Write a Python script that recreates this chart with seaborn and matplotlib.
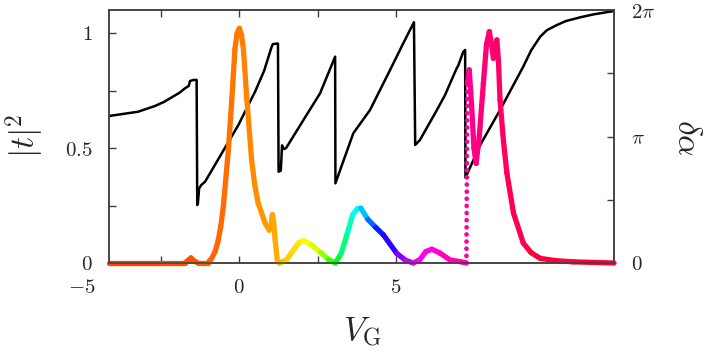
import colorsys
import numpy as np
import pandas as pd
import matplotlib
matplotlib.use("Agg")
import matplotlib.pyplot as plt
from matplotlib.collections import LineCollection
import seaborn as sns

# |t|^2 vs gate voltage, colour hue (degrees)
vg_t = [-4.14, -2.5, -1.72, -1.62, -1.53, -1.44, -1.31, -1.0, -0.87, -0.76,
        -0.66, -0.58, -0.50, -0.34, -0.23, -0.13, -0.06, 0.01, 0.08, 0.14,
        0.25, 0.40, 0.50, 0.61, 0.83, 0.96, 1.02, 1.06, 1.10, 1.15,
        1.22, 1.28, 1.36, 1.5, 1.7, 1.9, 2.05, 2.3, 2.6, 2.85,
        3.06, 3.25, 3.45, 3.62, 3.76, 3.88, 4.1, 4.35, 4.6, 5.02,
        5.3, 5.55, 5.76, 5.95, 6.14, 6.4, 6.72, 7.04, 7.24, 7.27,
        7.33, 7.40, 7.48, 7.55, 7.65, 7.78, 7.88, 7.97, 8.04, 8.1,
        8.16, 8.21, 8.26, 8.31, 8.42, 8.53, 8.74, 9.05, 9.3, 9.59,
        10.1, 10.64, 11.94]
t2 = [0.0, 0.0, 0.0, 0.012, 0.022, 0.01, 0.0, 0.0, 0.02, 0.05,
      0.10, 0.16, 0.245, 0.49, 0.71, 0.93, 1.0, 1.02, 0.99, 0.93,
      0.71, 0.45, 0.34, 0.26, 0.174, 0.143, 0.16, 0.21, 0.18, 0.10,
      0.01, 0.0, 0.005, 0.012, 0.05, 0.088, 0.097, 0.08, 0.045, 0.015,
      0.0, 0.04, 0.13, 0.21, 0.235, 0.238, 0.19, 0.155, 0.122, 0.042,
      0.012, 0.0, 0.015, 0.05, 0.06, 0.043, 0.013, 0.006, 0.0, 0.78,
      0.84, 0.70, 0.50, 0.433, 0.55, 0.78, 0.95, 1.006, 0.95, 0.89,
      0.94, 0.97, 0.88, 0.71, 0.53, 0.39, 0.217, 0.087, 0.045, 0.02,
      0.01, 0.005, 0.0]
hue_t = [15, 17, 18, 19, 19, 20, 21, 22, 23, 24,
         24, 25, 25, 26, 27, 28, 28, 29, 29, 30,
         31, 32, 33, 34, 36, 37, 38, 38, 39, 40,
         41, 42, 43, 46, 50, 54, 57, 62, 75, 95,
         120, 140, 158, 172, 180, 185, 205, 225, 240, 262,
         278, 292, 300, 305, 308, 312, 316, 320, 322, 324,
         326, 327, 328, 329, 330, 331, 332, 332, 333, 334,
         334, 335, 336, 336, 338, 339, 341, 343, 344, 345,
         346, 347, 348]

# phase delta alpha (in units of pi) vs gate voltage
vg_phase = [-4.14, -3.7, -3.21, -2.68, -2.4, -2.14, -1.9, -1.72, -1.60, -1.56,
            -1.45, -1.35, -1.33, -1.31, -1.27, -1.20, -1.08, -0.55, -0.02, 0.51,
            0.80, 1.04, 1.08, 1.24, 1.26, 1.33, 1.37, 1.42, 1.50, 2.05,
            2.58, 3.06, 3.07, 3.22, 3.64, 4.17, 4.81, 5.23, 5.57, 5.61,
            5.76, 6.30, 6.56, 6.93, 6.98, 7.14, 7.20, 7.21, 7.68, 8.31,
            9.05, 9.3, 9.59, 9.8, 10.12, 10.4, 10.86, 11.3, 11.94]
phase_pi = [1.162, 1.178, 1.196, 1.241, 1.272, 1.31, 1.345, 1.381, 1.40, 1.439,
            1.447, 1.447, 0.458, 0.47, 0.59, 0.617, 0.643, 0.867, 1.091, 1.354,
            1.52, 1.71, 1.731, 1.735, 0.722, 0.73, 0.93, 0.90, 0.909, 1.13,
            1.341, 1.631, 0.630, 0.735, 1.026, 1.209, 1.526, 1.737, 1.903, 0.933,
            0.972, 1.209, 1.328, 1.539, 1.56, 1.67, 1.684, 0.674, 0.933, 1.209,
            1.552, 1.68, 1.789, 1.84, 1.881, 1.912, 1.942, 1.966, 1.992]

sns.set_theme(style="ticks")
plt.rcParams["font.family"] = ["DejaVu Serif"]
plt.rcParams["mathtext.fontset"] = "cm"

fig = plt.figure(figsize=(7.05, 3.52), dpi=100)
ax = fig.add_axes([109 / 705, 89 / 352, 505 / 705, 253 / 352])
ax2 = ax.twinx()
ax.set_zorder(ax2.get_zorder() + 1)
ax.patch.set_visible(False)

# black phase curve on the right axis
df_phase = pd.DataFrame({"vg": vg_phase, "phase": np.array(phase_pi) * np.pi})
sns.lineplot(data=df_phase, x="vg", y="phase", ax=ax2, color="black",
             lw=1.8, sort=False, estimator=None)

# rainbow |t|^2 curve on the left axis
pts = np.column_stack([vg_t, t2])
segs = np.stack([pts[:-1], pts[1:]], axis=1)
hues = np.array(hue_t, dtype=float)
cols = np.array([colorsys.hsv_to_rgb(h / 360.0, 1, 1)
                 for h in (hues[:-1] + hues[1:]) / 2])
slope = np.abs(np.diff(t2) / np.diff(vg_t))
steep = slope > 8
lc = LineCollection(segs[~steep], colors=cols[~steep], linewidths=3.8,
                    capstyle="round", joinstyle="round", clip_on=False)
ax.add_collection(lc)
lc_dot = LineCollection(segs[steep], colors=cols[steep], linewidths=3.4,
                        linestyles=[(0, (0.01, 1.5))], capstyle="round")
ax.add_collection(lc_dot)

ax.set_xlim(-4.14, 11.94)
ax.set_ylim(0, 1.1)
ax2.set_ylim(0, 2 * np.pi)

ax.set_xticks([-2.5, 0, 2.5, 5])
ax.set_xticklabels(["", "$0$", "", "$5$"])
ax.set_yticks([0, 0.25, 0.5, 0.75, 1])
ax.set_yticklabels(["$0$", "", "$0.5$", "", "$1$"])
ax2.set_yticks([0, np.pi / 2, np.pi, 3 * np.pi / 2, 2 * np.pi])
ax2.set_yticklabels(["$0$", "", r"$\pi$", "", r"$2\pi$"])

ax.tick_params(axis="x", direction="in", length=5, width=1, top=True,
               bottom=True, pad=11, labelsize=15, color="#404040")
ax.tick_params(axis="y", direction="in", length=5, width=1, left=True,
               right=False, pad=12, labelsize=15, color="#404040")
ax2.tick_params(axis="y", direction="in", length=5, width=1, right=True,
                left=False, pad=12, labelsize=15, color="#404040")
ax.annotate("$-5$", xy=(-5, 0), xycoords=ax.get_xaxis_transform(),
            xytext=(0, -11), textcoords="offset points", ha="center",
            va="top", fontsize=15, annotation_clip=False)

for a in (ax, ax2):
    for s in a.spines.values():
        s.set_color("#404040")
        s.set_linewidth(1.1)
ax.set_xlabel("")
ax.set_ylabel("")
ax2.set_xlabel("")
ax2.set_ylabel("")

fig.text(25 / 705, 1 - 136 / 352, r"$|t|^2$", rotation=90, fontsize=24,
         ha="center", va="center")
fig.text(362 / 705, 1 - 332 / 352, r"$V_\mathrm{G}$", fontsize=24,
         ha="center", va="center")
fig.text(687 / 705, 1 - 137 / 352, r"$\delta\alpha$", rotation=270,
         fontsize=24, ha="center", va="center")

fig.savefig("out.png", dpi=100)
